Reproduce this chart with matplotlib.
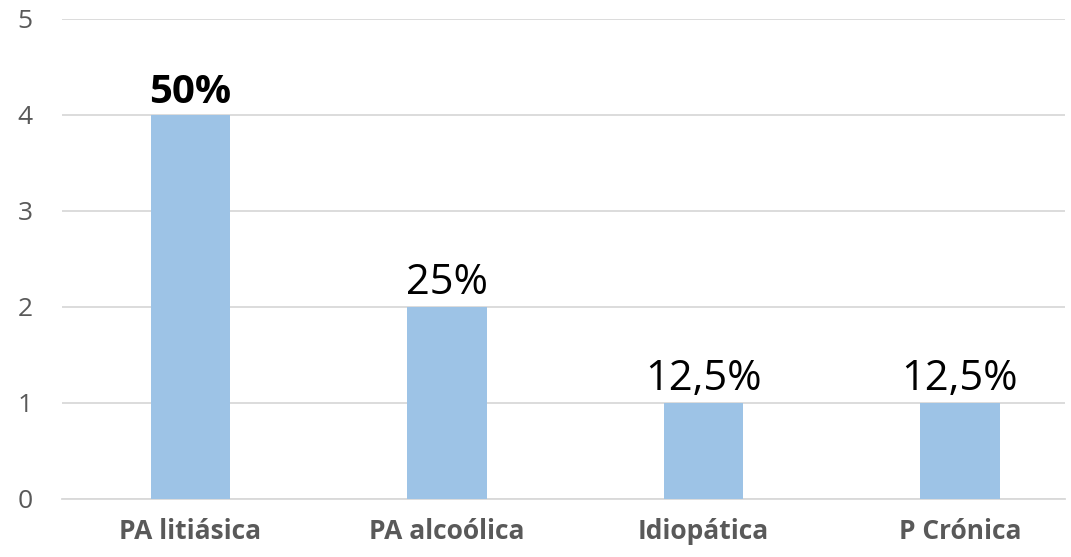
import matplotlib.pyplot as plt

categories = ["PA litiásica", "PA alcoólica", "Idiopática", "P Crónica"]
counts = [4, 2, 1, 1]
labels = ["50%", "25%", "12,5%", "12,5%"]
yticks = [0, 1, 2, 3, 4, 5]

plt.rcParams["font.family"] = ["Open Sans", "DejaVu Sans"]

fig = plt.figure(figsize=(10.71, 5.57), dpi=100)
ax = fig.add_axes([62 / 1071, 58 / 557, 1003 / 1071, 480 / 557])

x = range(len(categories))
bars = ax.bar(x, counts, width=0.31, color="#9DC3E6", zorder=3)

for i, (b, lab) in enumerate(zip(bars, labels)):
    ax.text(b.get_x() + b.get_width() / 2, b.get_height() + 0.03, lab,
            ha="center", va="bottom", fontsize=30 if i else 29, color="black",
            fontweight="bold" if i == 0 else "normal")

ax.set_xlim(-0.5, 3.41)
ax.set_ylim(0, 5)
ax.set_yticks(yticks)
ax.set_xticks(list(x))
ax.set_xticklabels(categories, fontsize=19, fontweight="bold", color="#595959")
ax.tick_params(axis="y", labelsize=19, labelcolor="#595959", length=0, pad=21)
ax.tick_params(axis="x", length=0, pad=14)
ax.grid(axis="y", color="#D9D9D9", linewidth=1.3, zorder=0)
for s in ["top", "right", "left"]:
    ax.spines[s].set_visible(False)
ax.spines["bottom"].set_color("#D9D9D9")
ax.spines["bottom"].set_linewidth(1.3)

fig.savefig("out.png", dpi=100)
